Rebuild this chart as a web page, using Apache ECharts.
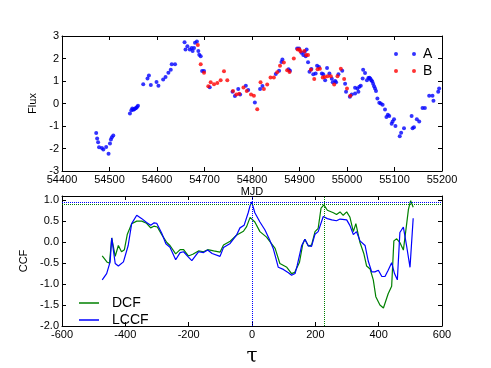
<!DOCTYPE html>
<html>
<head>
<meta charset="utf-8">
<script src="https://cdn.jsdelivr.net/npm/echarts@6/dist/echarts.min.js"></script>
<style>
html, body { margin: 0; padding: 0; background: #fff; }
#main { width: 491px; height: 368px; }
</style>
</head>
<body>
<div id="main"></div>
<script>
// light curve data
var aMjd = [54472,54474,54476,54478,54484,54487,54493,54498,54501,54503,54505,54508,
  54543,54546,54548,54550,54552,54554,54556,54558,54560,54571,54580,54583,54587,54599,54603,
  54613,54618,54624,54629,54631,54638,54658,54660,54664,54669,54673,54675,54678,54680,54684,
  54687,54689,54692,54695,54699,54711,54759,54764,54771,54775,54787,54792,54806,54817,54822,
  54850,54857,54862,54864,54877,54880,54895,54899,54904,54908,54911,54913,54915,54918,54921,
  54925,54929,54934,54937,54941,54947,54950,54954,54958,54963,54968,54970,54975,54977,54982,
  54990,54996,54998,55006,55010,55017,55017,55022,55024,55026,55029,55033,55034,55038,55042,
  55045,55047,55049,55051,55053,55055,55057,55059,55061,55064,55068,55071,55075,55080,55083,
  55086,55089,55094,55096,55099,55102,55111,55114,55120,55136,55138,55141,55147,55152,55159,
  55164,55173,55180,55182,55192,55194];
var aFlux = [-1.31,-1.56,-1.72,-1.94,-1.98,-2.04,-1.93,-2.23,-1.78,-1.60,-1.50,-1.42,
  -0.44,-0.30,-0.22,-0.28,-0.25,-0.22,-0.20,-0.15,-0.10,0.86,1.11,1.24,0.82,0.96,0.79,
  1.07,1.18,1.37,1.50,1.74,1.75,2.72,2.40,2.55,2.40,2.47,2.33,2.47,2.70,2.76,
  2.33,2.17,2.10,1.45,1.45,0.72,0.52,0.33,0.64,0.40,0.79,0.60,0.05,0.64,0.78,
  1.31,1.46,1.85,1.96,1.52,1.46,2.45,2.45,2.26,2.16,2.30,2.10,2.40,1.83,1.41,
  1.53,1.30,1.33,1.68,1.62,1.33,1.30,1.03,1.58,1.33,1.10,0.95,1.00,0.95,1.30,
  1.46,0.88,0.52,0.30,0.40,0.45,0.70,0.67,0.52,0.75,0.79,1.11,1.50,1.36,1.03,
  1.13,1.15,1.11,1.03,0.99,0.88,0.77,0.67,0.56,0.22,0.03,0.00,-0.05,-0.27,-0.60,
  -0.50,-0.56,-0.90,-0.80,-0.70,-1.00,-1.45,-1.30,-1.10,-0.55,-1.10,-1.05,-0.70,-0.80,-0.20,
  -0.20,0.35,0.35,0.12,0.52,0.67];
var bMjd = [54686,54692,54699,54708,54713,54720,54727,54734,54741,54748,54760,54767,54773,
  54782,54789,54798,54804,54811,54818,54825,54832,54839,54846,54853,54859,54867,54874,54879,
  54888,54896,54900,54902,54910,54914,54918,54924,54931,54938,54943,54949,54953,54959,54966,
  54973,54980,54987,54994,55000,55007];
var bFlux = [2.60,1.75,1.37,0.77,0.94,0.86,0.91,1.03,1.43,1.03,0.56,0.40,0.43,
  0.71,0.56,0.40,0.35,-0.25,0.94,0.64,0.85,1.16,1.16,1.39,1.68,1.82,1.48,1.40,
  2.00,2.40,2.40,2.32,2.33,2.16,2.16,1.50,1.09,1.52,1.55,1.16,1.18,1.21,1.21,
  0.85,1.21,1.55,1.09,0.67,0.35];

// cross correlation
var dcfTau = [-473,-457,-450,-443,-432,-422,-412,-403,-394,-380,-364,-348,-333,-320,-310,-299,
  -285,-269,-259,-241,-227,-216,-201,-187,-169,-153,-140,-121,-101,-90,-69,-48,-27,-17,-6,-1,
  9,25,46,62,73,88,110,125,135,150,160,167,178,188,199,209,218,227,238,257,267,278,288,299,
  309,320,328,341,353,362,373,383,391,396,404,415,420,430,441,448,457,467,478,488,494,501,509];
var dcfVal = [-0.33,-0.48,-0.50,0.10,-0.34,-0.08,-0.23,-0.18,0.18,0.44,0.50,0.50,0.45,0.34,0.38,0.36,
  0.18,-0.01,-0.08,-0.28,-0.18,-0.18,-0.33,-0.29,-0.21,-0.23,-0.18,-0.21,-0.24,-0.07,0.02,0.17,0.26,0.37,0.59,0.63,
  0.48,0.25,0.12,-0.04,-0.15,-0.51,-0.60,-0.75,-0.72,-0.48,-0.06,0.07,-0.09,-0.07,0.25,0.33,0.81,0.89,0.76,0.70,0.66,0.72,0.64,0.72,
  0.60,0.25,0.44,-0.01,-0.27,-0.57,-0.64,-0.90,-1.30,-1.31,-1.50,-1.57,-1.54,-1.23,-1.05,0.03,0.08,-0.01,-0.19,0.41,0.78,0.99,0.83];
var lccfTau = [-473,-459,-448,-443,-432,-422,-406,-401,-391,-380,-364,-348,-333,-320,-309,-301,
  -285,-272,-259,-241,-227,-216,-203,-190,-169,-153,-140,-126,-101,-90,-69,-48,-38,-25,-12,-6,-1,
  9,25,41,57,67,83,99,115,125,136,143,157,167,178,188,199,209,225,238,252,267,278,299,
  309,320,330,341,357,367,378,388,399,410,420,430,441,450,459,467,478,488,499,509];
var lccfVal = [-0.90,-0.75,-0.47,0.10,-0.51,-0.57,-0.47,-0.43,-0.08,0.44,0.64,0.56,0.47,0.40,0.46,0.45,
  0.21,-0.04,-0.12,-0.42,-0.25,-0.23,-0.34,-0.44,-0.23,-0.25,-0.19,-0.27,-0.34,-0.13,-0.03,0.18,0.34,0.40,0.70,0.87,0.96,
  0.70,0.48,0.29,0.03,-0.15,-0.60,-0.65,-0.73,-0.79,-0.75,-0.55,-0.08,0.07,-0.09,-0.10,0.19,0.25,0.61,0.56,0.53,0.51,0.55,0.53,
  0.40,0.18,0.25,0.03,-0.08,-0.45,-0.71,-0.71,-0.67,-0.82,-0.82,-0.67,-0.49,-0.75,-0.90,0.23,0.36,-0.08,-0.60,0.57];

// peak markers
var lccfPeak = 0.955, lccfLag = 0;
var dcfPeak = 0.895, dcfLag = 228;

function pairs(xs, ys) {
  var out = [];
  for (var i = 0; i < xs.length; i++) out.push([xs[i], ys[i]]);
  return out;
}

var font = 'Liberation Sans, Arial, sans-serif';
var tick = { show: true, inside: true, length: 4, lineStyle: { color: '#000' } };
var line = { show: true, onZero: false, lineStyle: { color: '#000', width: 1 } };
function lbl(fmt) {
  return { color: '#000', fontFamily: font, fontSize: 11, margin: 3, formatter: fmt };
}
function plain(v) { return String(v); }

function ticksOnly(grid, pos, min, max, interval) {
  return {
    type: 'value', gridIndex: grid, position: pos, min: min, max: max, interval: interval,
    axisLine: line, axisTick: tick, axisLabel: { show: false }, splitLine: { show: false }
  };
}

var myChart = echarts.init(document.getElementById('main'));
var twoDots = 'path://M0,2a2,2 0 1,0 4,0a2,2 0 1,0 -4,0M18,2a2,2 0 1,0 4,0a2,2 0 1,0 -4,0';

var yLabel = lbl(function (v) { return v.toFixed(1); });
yLabel.showMaxLabel = false;

var option = {
  animation: false,
  backgroundColor: '#fff',
  grid: [
    { left: 62, top: 36, width: 380, height: 135 },
    { left: 62, top: 196, width: 380, height: 138 }
  ],
  xAxis: [
    { type: 'value', gridIndex: 0, min: 54400, max: 55200, interval: 100,
      name: 'MJD', nameLocation: 'middle', nameGap: 15,
      nameTextStyle: { color: '#000', fontFamily: font, fontSize: 11 },
      axisLine: line, axisTick: tick, axisLabel: lbl(plain), splitLine: { show: false } },
    ticksOnly(0, 'top', 54400, 55200, 100),
    { type: 'value', gridIndex: 1, min: -600, max: 600, interval: 200,
      name: 'τ', nameLocation: 'middle', nameGap: 21,
      nameTextStyle: { color: '#000', fontFamily: 'DejaVu Serif, serif', fontSize: 20 },
      axisLine: line, axisTick: tick, axisLabel: lbl(plain), splitLine: { show: false } },
    ticksOnly(1, 'top', -600, 600, 200)
  ],
  yAxis: [
    { type: 'value', gridIndex: 0, min: -3, max: 3, interval: 1,
      name: 'Flux', nameLocation: 'middle', nameGap: 19,
      nameTextStyle: { color: '#000', fontFamily: font, fontSize: 11 },
      axisLine: line, axisTick: tick, axisLabel: lbl(plain), splitLine: { show: false } },
    ticksOnly(0, 'right', -3, 3, 1),
    { type: 'value', gridIndex: 1, min: -2, max: 1.1, interval: 0.5,
      name: 'CCF', nameLocation: 'middle', nameGap: 29,
      nameTextStyle: { color: '#000', fontFamily: font, fontSize: 11 },
      axisLine: line, axisTick: tick, axisLabel: yLabel, splitLine: { show: false } },
    ticksOnly(1, 'right', -2, 1.1, 0.5)
  ],
  legend: [
    { data: ['A', 'B'], orient: 'vertical', left: 389, top: 42, itemGap: 3,
      itemWidth: 22, itemHeight: 4, icon: twoDots,
      textStyle: { color: '#000', fontFamily: font, fontSize: 14, padding: [0, 0, 0, 2] } },
    { data: ['DCF', 'LCCF'], orient: 'vertical', left: 74, top: 291, itemGap: 3,
      itemWidth: 20, itemHeight: 1.5, icon: 'rect',
      textStyle: { color: '#000', fontFamily: font, fontSize: 14, padding: [0, 0, 0, 8] } }
  ],
  series: [
    { name: 'A', type: 'scatter', xAxisIndex: 0, yAxisIndex: 0, symbolSize: 4,
      itemStyle: { color: '#0000ff' }, data: pairs(aMjd, aFlux) },
    { name: 'B', type: 'scatter', xAxisIndex: 0, yAxisIndex: 0, symbolSize: 4,
      itemStyle: { color: '#ff0000' }, data: pairs(bMjd, bFlux) },
    { name: 'DCF', type: 'line', xAxisIndex: 2, yAxisIndex: 2, symbol: 'none',
      lineStyle: { color: '#008000', width: 1.2 }, itemStyle: { color: '#008000' },
      data: pairs(dcfTau, dcfVal),
      markLine: { silent: true, symbol: 'none', label: { show: false },
        lineStyle: { color: '#008000', type: 'dotted', width: 1 },
        data: [{ yAxis: dcfPeak }, { xAxis: dcfLag }] } },
    { name: 'LCCF', type: 'line', xAxisIndex: 2, yAxisIndex: 2, symbol: 'none',
      lineStyle: { color: '#0000ff', width: 1.2 }, itemStyle: { color: '#0000ff' },
      data: pairs(lccfTau, lccfVal),
      markLine: { silent: true, symbol: 'none', label: { show: false },
        lineStyle: { color: '#0000ff', type: 'dotted', width: 1 },
        data: [{ yAxis: lccfPeak }, { xAxis: lccfLag }] } }
  ]
};
myChart.setOption(option);
</script>
</body>
</html>
